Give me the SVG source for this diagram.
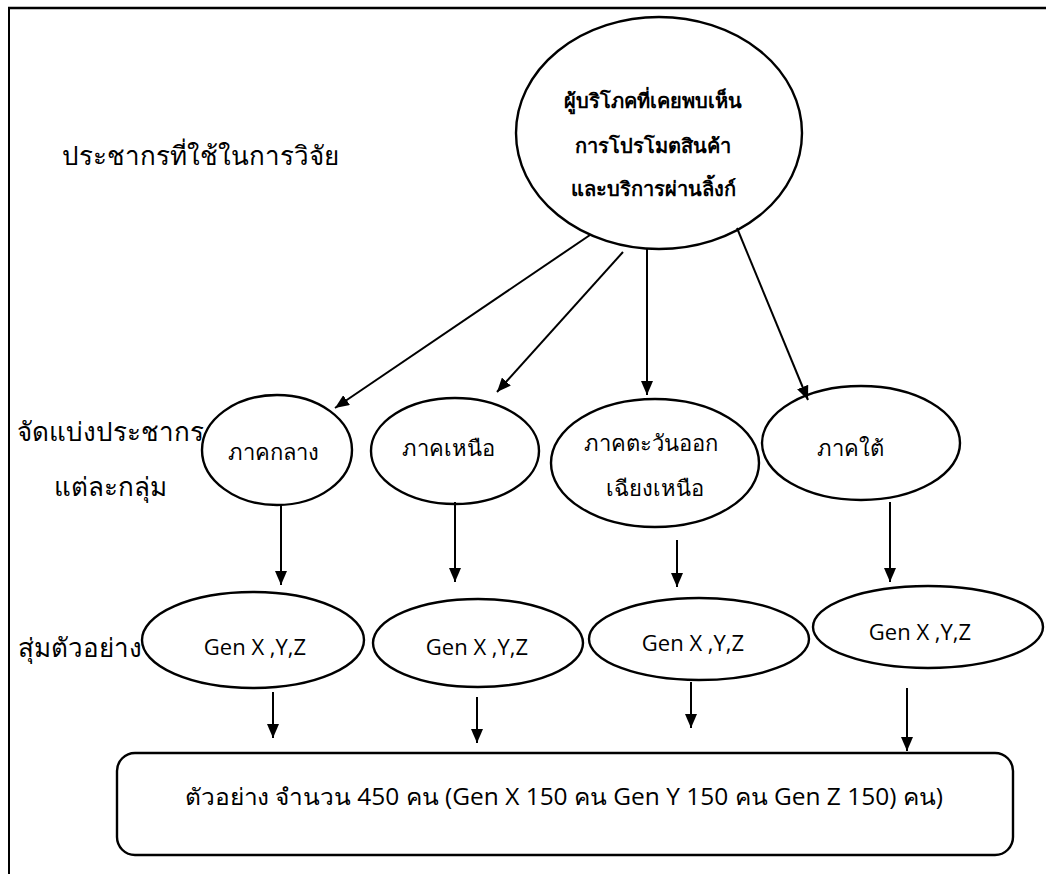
<svg xmlns="http://www.w3.org/2000/svg" width="1046" height="874" viewBox="0 0 1046 874">
<style>
.shape{fill:#fff;stroke:#000;stroke-width:2.4}
.conn{stroke:#000;stroke-width:2;fill:none}
.t{font-family:"Noto Sans","DejaVu Sans",sans-serif;fill:#000;text-anchor:middle}
.lbl{font-size:26px}
.node{font-size:22px}
.gen{font-family:"Open Sans","Liberation Sans",sans-serif;font-size:22px}
.bold{font-weight:bold;font-size:20px}
</style>
<defs>
<marker id="ah" viewBox="0 0 14 12" refX="14" refY="6" markerWidth="14" markerHeight="12" markerUnits="userSpaceOnUse" orient="auto">
<path d="M0,0 L14,6 L0,12 Z" fill="#000"/>
</marker>
</defs>
<rect width="1046" height="874" fill="#fff"/>
<g id="frame">
<line x1="8" y1="8" x2="1046" y2="8" stroke="#000" stroke-width="2.5"/>
<line x1="9" y1="8" x2="9" y2="874" stroke="#000" stroke-width="2"/>
</g>
<g id="labels">
<text class="t lbl" x="200" y="165">ประชากรที่ใช้ในการวิจัย</text>
<text class="t lbl" x="110" y="441">จัดแบ่งประชากร</text>
<text class="t lbl" x="110" y="496">แต่ละกลุ่ม</text>
<text class="t lbl" x="80" y="657">สุ่มตัวอย่าง</text>
</g>
<g id="population">
<ellipse class="shape" cx="659" cy="133" rx="143" ry="116"/>
<text class="t bold" x="653" y="108">ผู้บริโภคที่เคยพบเห็น</text>
<text class="t bold" x="653" y="153">การโปรโมตสินค้า</text>
<text class="t bold" x="653" y="196">และบริการผ่านลิ้งก์</text>
</g>
<g id="central">
<ellipse class="shape" cx="277" cy="450" rx="75" ry="55"/>
<text class="t node" x="273" y="460">ภาคกลาง</text>
</g>
<g id="north">
<ellipse class="shape" cx="455" cy="451" rx="84" ry="53"/>
<text class="t node" x="448" y="456">ภาคเหนือ</text>
</g>
<g id="northeast">
<ellipse class="shape" cx="655" cy="463" rx="104" ry="64"/>
<text class="t node" x="651" y="451">ภาคตะวันออก</text>
<text class="t node" x="655" y="496">เฉียงเหนือ</text>
</g>
<g id="south">
<ellipse class="shape" cx="861" cy="443" rx="99" ry="57"/>
<text class="t node" x="850" y="456">ภาคใต้</text>
</g>
<g id="gen1">
<ellipse class="shape" cx="253" cy="640" rx="111" ry="48"/>
<text class="t gen" x="255" y="655">Gen X ,Y,Z</text>
</g>
<g id="gen2">
<ellipse class="shape" cx="478" cy="643" rx="105" ry="44"/>
<text class="t gen" x="477" y="655">Gen X ,Y,Z</text>
</g>
<g id="gen3">
<ellipse class="shape" cx="699" cy="639" rx="110" ry="41"/>
<text class="t gen" x="693" y="651">Gen X ,Y,Z</text>
</g>
<g id="gen4">
<ellipse class="shape" cx="928" cy="627" rx="115" ry="41"/>
<text class="t gen" x="920" y="640">Gen X ,Y,Z</text>
</g>
<g id="sample">
<rect class="shape" x="117" y="753" width="896" height="102" rx="18" ry="18"/>
<text class="t gen" style="font-size:23px" x="564" y="805" textLength="758" lengthAdjust="spacingAndGlyphs">ตัวอย่าง จำนวน 450  คน (Gen X 150 คน Gen Y 150 คน Gen Z 150) คน)</text>
</g>
<g id="connectors">
<line class="conn" x1="590" y1="235" x2="335" y2="408" marker-end="url(#ah)"/>
<line class="conn" x1="623" y1="252" x2="497" y2="392" marker-end="url(#ah)"/>
<line class="conn" x1="647" y1="249" x2="647" y2="395" marker-end="url(#ah)"/>
<line class="conn" x1="737" y1="228" x2="808" y2="400" marker-end="url(#ah)"/>
<line class="conn" x1="281" y1="505" x2="281" y2="585" marker-end="url(#ah)"/>
<line class="conn" x1="455" y1="502" x2="455" y2="582" marker-end="url(#ah)"/>
<line class="conn" x1="677" y1="540" x2="677" y2="587" marker-end="url(#ah)"/>
<line class="conn" x1="890" y1="502" x2="890" y2="582" marker-end="url(#ah)"/>
<line class="conn" x1="273" y1="692" x2="273" y2="738" marker-end="url(#ah)"/>
<line class="conn" x1="477" y1="697" x2="477" y2="743" marker-end="url(#ah)"/>
<line class="conn" x1="691" y1="682" x2="691" y2="728" marker-end="url(#ah)"/>
<line class="conn" x1="907" y1="688" x2="907" y2="751" marker-end="url(#ah)"/>
</g>
</svg>
